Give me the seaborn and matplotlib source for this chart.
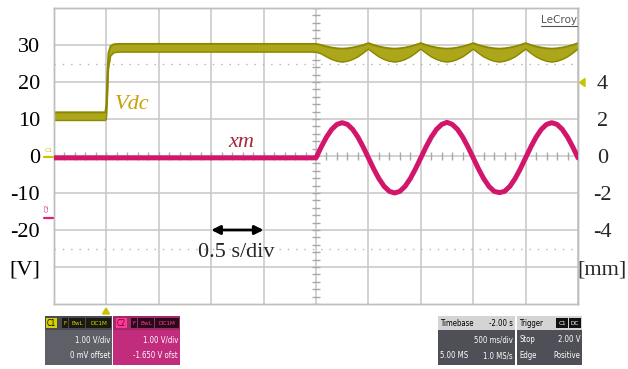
import numpy as np
import pandas as pd
import matplotlib
matplotlib.use("Agg")
import matplotlib.pyplot as plt
import seaborn as sns
from matplotlib.patches import Rectangle, Polygon

# time [s] and channel values
vdc_step_t = [0.0, 0.49, 0.50, 0.51, 0.52, 0.54, 0.57, 0.62, 2.50]
vdc_step_hi = [11.8, 11.8, 14.0, 22.5, 27.8, 29.7, 30.2, 30.3, 30.3]
vdc_step_lo = [9.6, 9.6, 10.0, 15.5, 23.5, 27.0, 27.9, 28.1, 28.1]

rip_t = [2.50, 2.55, 2.60, 2.65, 2.70, 2.75, 2.80, 2.85, 2.90, 2.95,
         3.00, 3.05, 3.10, 3.15, 3.20, 3.25, 3.30, 3.35, 3.40, 3.45,
         3.50, 3.55, 3.60, 3.65, 3.70, 3.75, 3.80, 3.85, 3.90, 3.95,
         4.00, 4.05, 4.10, 4.15, 4.20, 4.25, 4.30, 4.35, 4.40, 4.45,
         4.50, 4.55, 4.60, 4.65, 4.70, 4.75, 4.80, 4.85, 4.90, 4.95, 5.00]
vdc_rip_hi = [30.3, 30.0, 29.6, 29.3, 29.1, 29.0, 29.1, 29.3, 29.6, 30.0,
              30.5, 30.0, 29.6, 29.3, 29.1, 29.0, 29.1, 29.3, 29.6, 30.0,
              30.5, 30.0, 29.6, 29.3, 29.1, 29.0, 29.1, 29.3, 29.6, 30.0,
              30.5, 30.0, 29.6, 29.3, 29.1, 29.0, 29.1, 29.3, 29.6, 30.0,
              30.5, 30.0, 29.6, 29.3, 29.1, 29.0, 29.1, 29.3, 29.6, 30.0, 30.5]
vdc_rip_lo = [28.1, 27.6, 26.8, 26.1, 25.6, 25.4, 25.6, 26.1, 26.8, 27.8,
              28.9, 27.8, 26.8, 26.1, 25.6, 25.4, 25.6, 26.1, 26.8, 27.8,
              28.9, 27.8, 26.8, 26.1, 25.6, 25.4, 25.6, 26.1, 26.8, 27.8,
              28.9, 27.8, 26.8, 26.1, 25.6, 25.4, 25.6, 26.1, 26.8, 27.8,
              28.9, 27.8, 26.8, 26.1, 25.6, 25.4, 25.6, 26.1, 26.8, 27.8, 28.9]

xm_start_t = [0.0]
xm_start = [-0.1]
xm_sine = [-0.1, 0.49, 1.02, 1.44, 1.71, 1.80, 1.71, 1.44, 1.02, 0.49,
           -0.1, -0.69, -1.22, -1.64, -1.91, -2.00, -1.91, -1.64, -1.22, -0.69,
           -0.1, 0.49, 1.02, 1.44, 1.71, 1.82, 1.71, 1.44, 1.02, 0.49,
           -0.1, -0.69, -1.22, -1.64, -1.91, -1.98, -1.91, -1.64, -1.22, -0.69,
           -0.1, 0.49, 1.02, 1.44, 1.71, 1.80, 1.71, 1.44, 1.02, 0.49, -0.1]

left_ticks = [30, 20, 10, 0, -10, -20, -30]
left_labels = ["30", "20", "10", "0", "-10", "-20", "[V]"]
right_ticks = [4, 2, 0, -2, -4, -6]
right_labels = ["4", "2", "0", "-2", "-4", "[mm]"]

VDC_COL = "#aca71a"
VDC_EDGE = "#8c8800"
XM_COL = "#d1166c"
GRID = "#c6c6c6"

sns.set_theme(style="white")
plt.rcParams["font.family"] = ["Liberation Serif", "DejaVu Serif"]

vdc = pd.DataFrame({
    "t": vdc_step_t + rip_t[1:],
    "hi": vdc_step_hi + vdc_rip_hi[1:],
    "lo": vdc_step_lo + vdc_rip_lo[1:],
})
xm = pd.DataFrame({"t": xm_start_t + rip_t, "xm": xm_start + xm_sine})

fig = plt.figure(figsize=(6.28, 3.69), dpi=100)
ax = fig.add_axes([54 / 628, 1 - 304 / 369, 524 / 628, 296 / 369])
ax2 = ax.twinx()

ax.set_xlim(0, 5)
ax.set_ylim(-40, 40)
ax2.set_ylim(-8, 8)

# scope graticule
ax.set_xticks(np.arange(0, 5.01, 0.5))
ax.set_xticklabels([])
ax.set_yticks(left_ticks)
ax.set_yticklabels(left_labels, fontsize=16)
ax.grid(True, color=GRID, lw=1.1)
for v in (25, -25):
    ax.axhline(v, color="#b4b4b4", lw=1, ls=(0, (1, 5)))
ax.plot([2.5] * 41, np.arange(-40, 40.1, 2), ls="none", marker="_", ms=6,
        color="#a8a8a8", mew=1)
ax.plot(np.arange(0, 5.01, 0.1), [0] * 51, ls="none", marker="|", ms=6,
        color="#a8a8a8", mew=1)
ax.tick_params(axis="both", length=0, pad=10, colors="black")

# right labels centred about 25 px right of the frame
ax2.set_yticks(right_ticks)
ax2.set_yticklabels(right_labels, fontsize=16)
ax2.tick_params(axis="y", length=0, pad=17.5)
for lab in ax2.get_yticklabels():
    lab.set_horizontalalignment("center")
ax2.grid(False)

for a in (ax, ax2):
    for s in a.spines.values():
        s.set_color("#bdbdbd")
        s.set_linewidth(1)

# traces
ax.fill_between(vdc["t"], vdc["lo"], vdc["hi"], color=VDC_COL, lw=0, zorder=3)
sns.lineplot(data=vdc, x="t", y="hi", ax=ax, color=VDC_EDGE, lw=1.4,
             estimator=None, sort=False, zorder=4)
sns.lineplot(data=vdc, x="t", y="lo", ax=ax, color=VDC_EDGE, lw=1.0,
             estimator=None, sort=False, zorder=4)
sns.lineplot(data=xm, x="t", y="xm", ax=ax2, color=XM_COL, lw=3.6,
             estimator=None, sort=False, zorder=4)
ax.set_xlabel("")
ax.set_ylabel("")
ax2.set_ylabel("")

ax.text(0.58, 12.7, "Vdc", style="italic", fontsize=16, color="#c9a000",
        ha="left", va="baseline")
ax.text(1.66, 2.4, "xm", style="italic", fontsize=16, color="#a8283c",
        ha="left", va="baseline")
ax.annotate("", xy=(2.0, -20), xytext=(1.5, -20),
            arrowprops=dict(arrowstyle="<|-|>", color="black", lw=2,
                            mutation_scale=13, shrinkA=0, shrinkB=0))
ax.text(1.74, -26, "0.5 s/div", fontsize=16, ha="center", va="center")

# overlay in pixel coordinates for the scope furniture
ov = fig.add_axes([0, 0, 1, 1], zorder=10)
ov.set_xlim(0, 628)
ov.set_ylim(369, 0)
ov.axis("off")

sans = ["Liberation Sans Narrow", "DejaVu Sans"]

ov.text(559, 20, "LeCroy", fontsize=7.5, color="#555555", family=sans,
        ha="center", va="center")
ov.plot([541, 577], [25.5, 25.5], color="#555555", lw=0.8)

ov.text(49, 151, "C1", fontsize=4.5, color="#c8c400", family=sans,
        ha="center", va="center")
ov.plot([44, 53], [157, 157], color="#c8c400", lw=1.6)
ov.text(47, 208, "C2", fontsize=4.5, color="#e0207a", family=sans,
        rotation=90, ha="center", va="center")
ov.plot([44, 53], [218, 218], color="#e0207a", lw=1.6)
ov.add_patch(Polygon([(585, 78.5), (585, 86.5), (579.5, 82.5)], color="#c8c400"))
ov.add_patch(Polygon([(102.5, 314), (109.5, 314), (106, 308)], color="#c8c400"))


def tag(x0, x1, y0, y1, txt, bg, fg, size=4.6):
    ov.add_patch(Rectangle((x0, y0), x1 - x0, y1 - y0, color=bg, lw=0))
    ov.text((x0 + x1) / 2, (y0 + y1) / 2 + 0.3, txt, fontsize=size, color=fg,
            family=sans, fontstretch="condensed", ha="center", va="center")


def body_text(x, y, txt, ha, col="white"):
    ov.text(x, y, txt, fontsize=5.6, color=col, family=sans,
            fontstretch="condensed", ha=ha, va="center")


# channel 1
ov.add_patch(Rectangle((45, 316), 67, 14, color="#4a4a52", lw=0))
ov.add_patch(Rectangle((45, 330), 67, 35, color="#5f5f68", lw=0))
tag(46, 57, 318, 328, "C1", "#d6d200", "black", 5.5)
tag(62, 68, 318, 328, "F", "#1a1a10", "#d6d200")
tag(69, 85, 318, 328, "BwL", "#1a1a10", "#d6d200")
tag(86, 111, 318, 328, "DC1M", "#1a1a10", "#d6d200")
body_text(110, 340, "1.00 V/div", "right")
body_text(110, 356, "0 mV offset", "right")

# channel 2
ov.add_patch(Rectangle((113, 316), 67, 14, color="#a22a68", lw=0))
ov.add_patch(Rectangle((113, 330), 67, 35, color="#c22c7c", lw=0))
tag(116, 127, 318, 328, "C2", "#ff3a96", "#6a0030", 5.5)
tag(131, 137, 318, 328, "F", "#2a0a1a", "#ff3a96")
tag(138, 154, 318, 328, "BwL", "#2a0a1a", "#ff3a96")
tag(155, 179, 318, 328, "DC1M", "#2a0a1a", "#ff3a96")
body_text(178, 340, "1.00 V/div", "right")
body_text(178, 356, "-1.650 V ofst", "right")

# timebase
ov.add_patch(Rectangle((438, 316), 77, 14, color="#d4d4d4", lw=0))
ov.add_patch(Rectangle((438, 330), 77, 35, color="#4f4f57", lw=0))
body_text(440, 323, "Timebase", "left", "black")
body_text(513, 323, "-2.00 s", "right", "black")
body_text(513, 340, "500 ms/div", "right")
body_text(440, 356, "5.00 MS", "left")
body_text(513, 356, "1.0 MS/s", "right")

# trigger
ov.add_patch(Rectangle((517, 316), 65, 14, color="#d4d4d4", lw=0))
ov.add_patch(Rectangle((517, 330), 65, 35, color="#4f4f57", lw=0))
body_text(519, 323, "Trigger", "left", "black")
tag(556, 568, 318, 328, "C1", "#111111", "white")
tag(569, 581, 318, 328, "DC", "#111111", "white")
body_text(519, 340, "Stop", "left")
body_text(580, 340, "2.00 V", "right")
body_text(519, 356, "Edge", "left")
body_text(580, 356, "Positive", "right")

fig.savefig("out.png", dpi=100)
